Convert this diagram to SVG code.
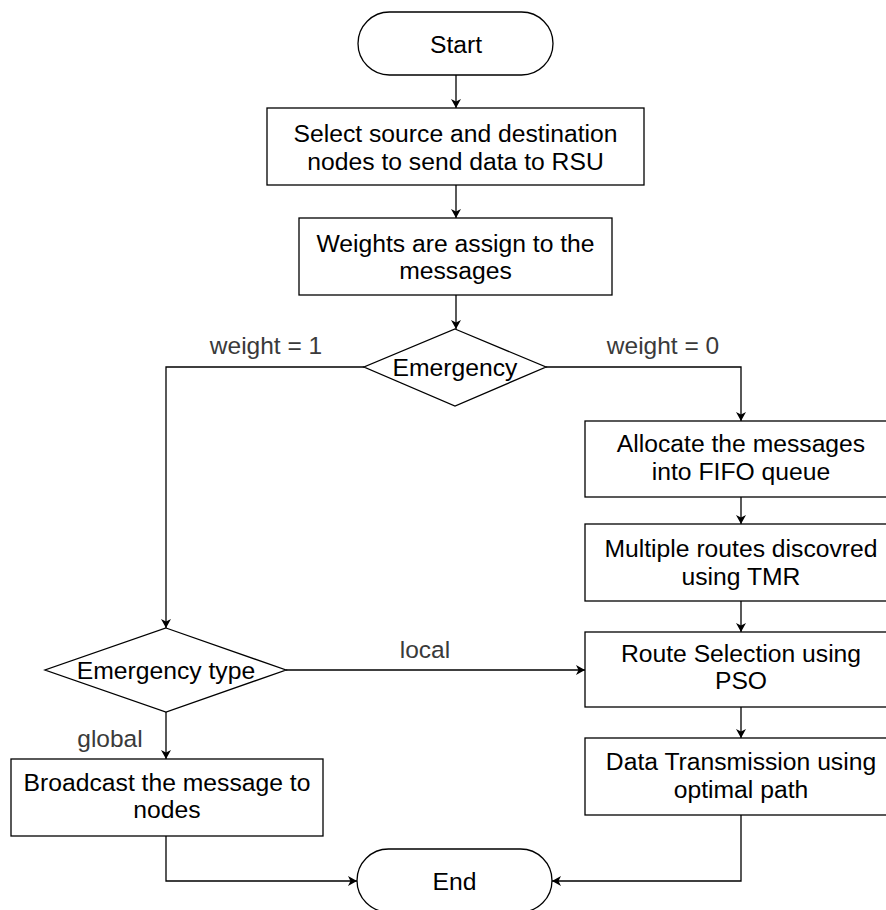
<svg xmlns="http://www.w3.org/2000/svg" width="886" height="910" viewBox="0 0 886 910">
<defs>
<style>
.shape{fill:#fff;stroke:#000;stroke-width:1.3}
.t{font-family:"Liberation Sans",Arial,sans-serif;font-size:24.7px;fill:#000;text-anchor:middle}
.lbl{font-family:"Liberation Sans",Arial,sans-serif;font-size:24.5px;fill:#3a3a3a;text-anchor:middle}
.edge{fill:none;stroke:#000;stroke-width:1.3}
</style>
<marker id="arr" markerUnits="userSpaceOnUse" markerWidth="12" markerHeight="12" viewBox="0 -6 10 12" refX="9" refY="0" orient="auto">
<path d="M0,-5 L9,0 L0,5 L2.5,0 Z" fill="#000"/>
</marker>
</defs>
<rect width="886" height="910" fill="#fff"/>
<g id="connectors">
<path class="edge" d="M456,75 V108" marker-end="url(#arr)"/>
<path class="edge" d="M456,185 V218" marker-end="url(#arr)"/>
<path class="edge" d="M456,295 V329" marker-end="url(#arr)"/>
<path class="edge" d="M364,367 H166 V628" marker-end="url(#arr)"/>
<path class="edge" d="M546,367 H741 V421" marker-end="url(#arr)"/>
<path class="edge" d="M741,497 V524" marker-end="url(#arr)"/>
<path class="edge" d="M741,601 V632" marker-end="url(#arr)"/>
<path class="edge" d="M741,707 V738" marker-end="url(#arr)"/>
<path class="edge" d="M741,815 V881 H552" marker-end="url(#arr)"/>
<path class="edge" d="M286,670 H585" marker-end="url(#arr)"/>
<path class="edge" d="M166,712 V759" marker-end="url(#arr)"/>
<path class="edge" d="M166,836 V881 H357" marker-end="url(#arr)"/>
<text class="lbl" x="266" y="354">weight = 1</text>
<text class="lbl" x="663" y="354">weight = 0</text>
<text class="lbl" x="425" y="658">local</text>
<text class="lbl" x="110" y="747">global</text>
</g>
<g id="start">
<rect class="shape" x="358" y="12" width="195" height="63" rx="31.5" ry="31.5"/>
<text class="t" x="456" y="53">Start</text>
</g>
<g id="select">
<rect class="shape" x="267" y="108" width="377" height="77"/>
<text class="t" x="455.5" y="142">Select source and destination</text>
<text class="t" x="455.5" y="170">nodes to send data to RSU</text>
</g>
<g id="weights">
<rect class="shape" x="299" y="218" width="313" height="77"/>
<text class="t" x="455.5" y="252">Weights are assign to the</text>
<text class="t" x="455.5" y="279">messages</text>
</g>
<g id="emergency">
<polygon class="shape" points="455,329 546,367 455,406 364,367"/>
<text class="t" x="455" y="376">Emergency</text>
</g>
<g id="allocate">
<rect class="shape" x="585" y="421" width="312" height="76"/>
<text class="t" x="741" y="452">Allocate the messages</text>
<text class="t" x="741" y="480">into FIFO queue</text>
</g>
<g id="multiple">
<rect class="shape" x="585" y="524" width="312" height="77"/>
<text class="t" x="741" y="557">Multiple routes discovred</text>
<text class="t" x="741" y="585">using TMR</text>
</g>
<g id="route">
<rect class="shape" x="585" y="632" width="312" height="75"/>
<text class="t" x="741" y="662">Route Selection using</text>
<text class="t" x="741" y="689">PSO</text>
</g>
<g id="data">
<rect class="shape" x="585" y="738" width="312" height="77"/>
<text class="t" x="741" y="770">Data Transmission using</text>
<text class="t" x="741" y="798">optimal path</text>
</g>
<g id="emergency-type">
<polygon class="shape" points="166,628 286,670 166,712 45,670"/>
<text class="t" x="166" y="679">Emergency type</text>
</g>
<g id="broadcast">
<rect class="shape" x="11" y="759" width="312" height="77"/>
<text class="t" x="167" y="791">Broadcast the message to</text>
<text class="t" x="167" y="818">nodes</text>
</g>
<g id="end">
<rect class="shape" x="357" y="849" width="195" height="63" rx="31.5" ry="31.5"/>
<text class="t" x="454.5" y="890">End</text>
</g>
</svg>
